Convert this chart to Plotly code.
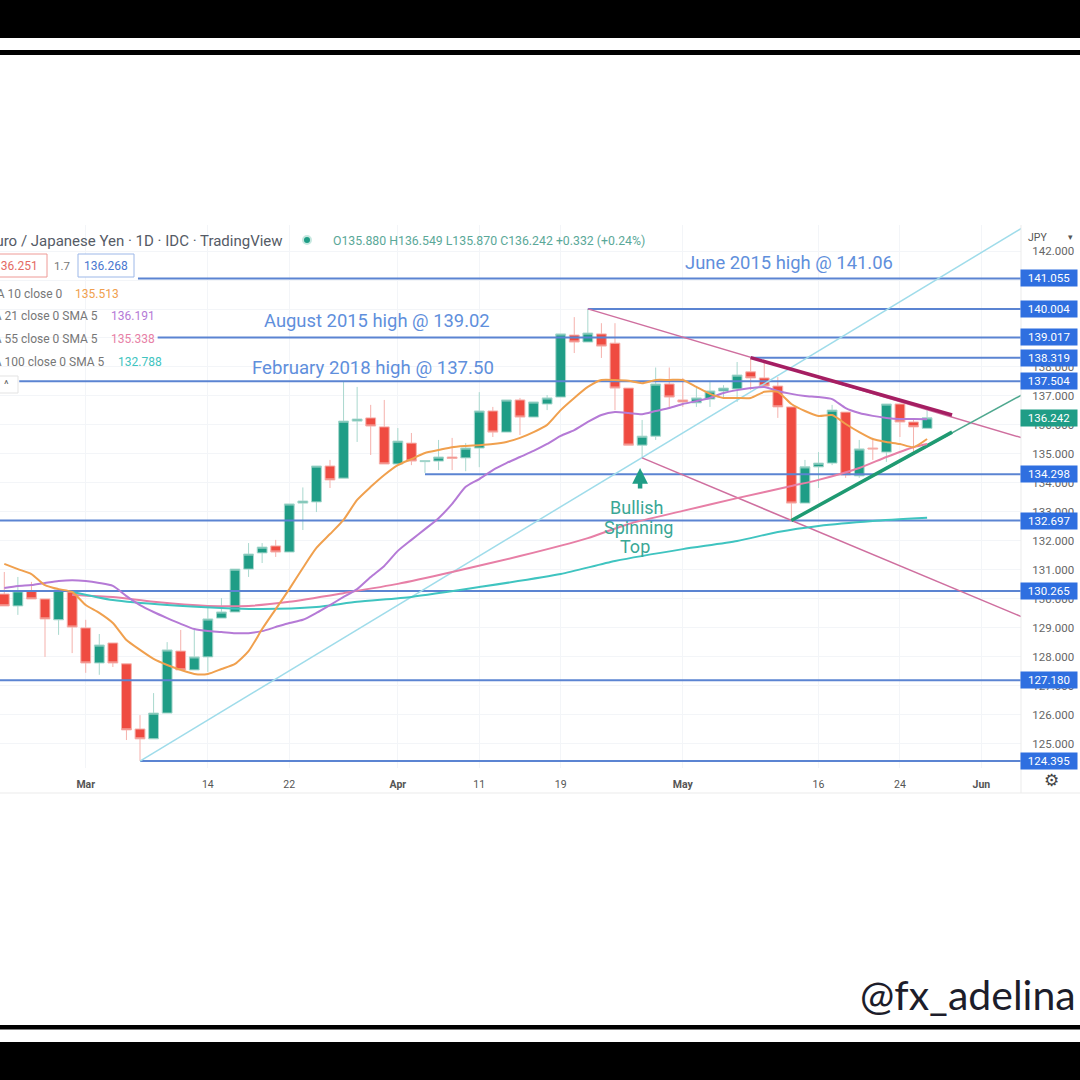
import plotly.graph_objects as go

# Daily candles, EUR/JPY, 2022 (x is the trading day number)
opens = [130.16, 129.75, 130.27, 129.99, 129.27, 130.23, 128.99, 127.78, 128.47, 127.75,
         125.50, 125.16, 126.05, 128.19, 127.54, 127.99, 129.33, 129.54, 131.02, 131.58,
         131.82, 131.61, 133.30, 133.34, 134.58, 134.16, 136.13, 136.24, 135.93, 134.65,
         135.37, 134.73, 134.75, 134.89, 134.86, 135.20, 136.48, 135.75, 136.86, 136.27,
         136.72, 136.96, 139.10, 138.86, 139.14, 138.82, 137.27, 135.30, 135.61, 137.41,
         136.86, 136.76, 136.89, 137.17, 137.24, 137.83, 137.62, 137.34, 136.62, 133.30,
         134.55, 134.68, 136.44, 134.24, 135.20, 135.06, 136.72, 136.10, 135.88]
highs = [130.92, 130.75, 130.58, 129.99, 130.30, 130.30, 129.27, 128.78, 128.47, 127.75,
         125.98, 126.74, 128.50, 128.92, 128.92, 129.68, 130.02, 131.02, 131.92, 131.92,
         132.03, 133.27, 133.84, 134.58, 134.79, 137.48, 137.31, 136.69, 136.86, 135.89,
         135.72, 134.77, 135.48, 135.55, 135.37, 137.13, 136.62, 136.86, 136.93, 136.79,
         137.03, 139.14, 139.72, 140.00, 139.51, 139.51, 137.27, 136.17, 137.98, 137.98,
         137.62, 137.27, 137.48, 137.37, 138.17, 138.32, 138.13, 137.65, 136.62, 134.79,
         135.06, 136.69, 136.44, 135.48, 135.55, 136.72, 136.72, 136.20, 136.55]
lows = [129.75, 129.44, 129.99, 127.99, 128.75, 128.12, 127.44, 127.37, 127.64, 125.12,
        124.40, 125.16, 126.05, 127.54, 127.54, 127.47, 129.33, 129.54, 130.75, 131.23,
        131.44, 131.61, 132.37, 132.99, 133.82, 134.16, 135.41, 134.96, 134.65, 134.65,
        134.61, 134.34, 134.44, 134.44, 134.40, 134.54, 135.58, 135.75, 135.65, 136.27,
        136.51, 136.96, 138.48, 138.86, 138.31, 136.51, 135.30, 134.86, 135.48, 136.58,
        136.62, 136.62, 136.62, 136.96, 136.79, 137.20, 137.34, 136.24, 132.71, 133.30,
        133.82, 134.61, 134.17, 134.17, 134.79, 134.72, 135.58, 135.06, 135.87]
closes = [129.75, 130.27, 129.99, 129.30, 130.30, 129.02, 127.78, 128.40, 127.78, 125.47,
          125.16, 126.05, 128.23, 127.54, 127.99, 129.30, 129.54, 131.02, 131.54, 131.78,
          131.61, 133.27, 133.37, 134.58, 134.10, 136.13, 136.20, 135.96, 134.65, 135.44,
          134.75, 134.77, 134.89, 134.84, 135.20, 136.48, 135.75, 136.86, 136.27, 136.79,
          136.93, 139.14, 138.86, 139.17, 138.72, 137.27, 135.30, 135.61, 137.41, 136.96,
          136.79, 136.93, 137.17, 137.27, 137.72, 137.62, 137.34, 136.62, 133.30, 134.55,
          134.68, 136.51, 134.27, 135.17, 135.17, 136.72, 136.10, 135.93, 136.242]
days = list(range(len(opens)))

sma10 = [131.20, 131.02, 130.85, 130.47, 130.33, 130.23, 129.78, 129.51, 129.16, 128.57,
         128.23, 127.92, 127.71, 127.54, 127.40, 127.40, 127.57, 127.75, 128.19, 128.95,
         129.64, 130.33, 131.06, 131.75, 132.23, 132.72, 133.41, 133.86, 134.27, 134.61,
         134.82, 135.03, 135.13, 135.23, 135.27, 135.30, 135.34, 135.41, 135.55, 135.75,
         136.00, 136.51, 136.93, 137.31, 137.55, 137.55, 137.52, 137.44, 137.55, 137.55,
         137.55, 137.31, 137.07, 136.93, 136.93, 136.93, 137.14, 137.14, 136.72, 136.48,
         136.31, 136.34, 136.03, 135.75, 135.51, 135.41, 135.34, 135.23, 135.51]
sma21 = [130.37, 130.44, 130.47, 130.54, 130.61, 130.64, 130.61, 130.54, 130.44, 130.09,
         129.78, 129.54, 129.33, 129.13, 128.95, 128.88, 128.85, 128.81, 128.81, 128.88,
         129.02, 129.16, 129.27, 129.51, 129.78, 130.06, 130.33, 130.75, 131.13, 131.65,
         132.03, 132.40, 132.78, 133.27, 133.86, 134.13, 134.44, 134.68, 134.89, 135.10,
         135.34, 135.62, 135.82, 136.10, 136.34, 136.44, 136.41, 136.37, 136.48, 136.58,
         136.72, 136.82, 136.93, 137.10, 137.20, 137.27, 137.31, 137.17, 137.07, 137.00,
         136.96, 136.89, 136.58, 136.41, 136.31, 136.24, 136.20, 136.20, 136.19]
sma55_days = [5, 8, 11, 15, 18, 21, 25, 29, 33, 38, 43, 46, 50, 54, 58, 60, 63, 65, 67, 68]
sma55 = [130.13, 130.06, 129.89, 129.75, 129.75, 129.89, 130.19, 130.51, 130.92, 131.47,
         132.09, 132.58, 133.03, 133.47, 133.89, 134.10, 134.51, 134.89, 135.23, 135.34]
sma100_days = [5, 8, 12, 16, 19, 23, 26, 30, 35, 41, 45, 50, 54, 57, 60, 64, 68]
sma100 = [130.23, 129.95, 129.78, 129.68, 129.64, 129.71, 129.89, 130.06, 130.40, 130.85,
          131.30, 131.71, 131.99, 132.30, 132.51, 132.68, 132.79]

# Horizontal levels: price and the day each one starts
levels = [141.055, 140.004, 139.017, 138.319, 137.504, 134.298, 132.697, 130.265, 127.18, 124.395]
level_starts = [9.85, 43, 11.3, 55, 1.1, 31, -1, -1, -1, 10]
level_end = 75

# Drawn trend lines: (day, price) at each end
fan_days = [10, 75]
fan_prices = [124.395, 142.8]
upper_days = [43, 75]
upper_prices = [140.004, 135.55]
lower_days = [47, 75]
lower_prices = [134.86, 129.37]
res_days = [55, 69.84]
res_prices = [138.32, 136.34]
sup_days = [58, 75]
sup_prices = [132.70, 137.04]
sup_thick_days = [58, 69.84]
sup_thick_prices = [132.70, 135.75]

tick_days = [6, 15, 21, 29, 35, 41, 50, 60, 66, 72]
tick_text = ['<b>Mar</b>', '14', '22', '<b>Apr</b>', '11', '19', '<b>May</b>', '16', '24', '<b>Jun</b>']
price_ticks = list(range(125, 143))

BLUE = '#5b84d2'
GREEN = '#1f9d86'
RED = '#ef4b41'
FONT = 'Roboto'


def px(x):
    return x / 1080


def py(y):
    return 1 - y / 1080


fig = go.Figure()

fig.add_trace(go.Candlestick(
    x=days, open=opens, high=highs, low=lows, close=closes,
    increasing=dict(line=dict(color='#a9d8ce', width=1), fillcolor=GREEN),
    decreasing=dict(line=dict(color='#f5b1ac', width=1), fillcolor=RED),
    whiskerwidth=0, showlegend=False,
))

for price, start in zip(levels, level_starts):
    fig.add_trace(go.Scatter(x=[start, level_end], y=[price, price], mode='lines',
                             line=dict(color=BLUE, width=2), hoverinfo='skip'))

lines = [
    (fan_days, fan_prices, '#9fdcea', 1.5),
    (upper_days, upper_prices, '#cf6f9f', 1.5),
    (lower_days, lower_prices, '#cf6f9f', 1.5),
    (sup_days, sup_prices, '#4fa88f', 1.5),
    (sup_thick_days, sup_thick_prices, '#1f9a72', 3.5),
    (res_days, res_prices, '#a51e62', 3.5),
]
for xs, ys, color, width in lines:
    fig.add_trace(go.Scatter(x=xs, y=ys, mode='lines', line=dict(color=color, width=width),
                             hoverinfo='skip'))

fig.add_trace(go.Scatter(x=sma55_days, y=sma55, mode='lines',
                         line=dict(color='#e77fa6', width=2, shape='spline', smoothing=0.6)))
fig.add_trace(go.Scatter(x=sma100_days, y=sma100, mode='lines',
                         line=dict(color='#3fc4c0', width=2, shape='spline', smoothing=0.6)))
fig.add_trace(go.Scatter(x=days, y=sma21, mode='lines',
                         line=dict(color='#b57ad6', width=2, shape='spline', smoothing=0.6)))
fig.add_trace(go.Scatter(x=days, y=sma10, mode='lines',
                         line=dict(color='#f0a04e', width=2, shape='spline', smoothing=0.6)))

annotations = []


def note(x, y, text, color, size, anchor='left', family=FONT):
    annotations.append(dict(xref='paper', yref='paper', x=px(x), y=py(y), text=text, showarrow=False,
                            xanchor=anchor, yanchor='middle',
                            font=dict(family=family, color=color, size=size)))


# header rows, cut by the left edge as in the source
note(285, 241, 'Euro / Japanese Yen · 1D · IDC · TradingView', '#555b66', 15, 'right')
note(331, 241, 'O135.880 H136.549 L135.870 C136.242 +0.332 (+0.24%)', '#5aa898', 12.3)
note(62, 266, '1.7', '#777777', 11.5, 'center')
note(65, 294, 'SMA 10 close 0', '#777777', 12, 'right')
note(73, 294, '135.513', '#f0a04e', 12)
note(100, 316, 'SMA 21 close 0 SMA 5', '#777777', 12, 'right')
note(109, 316, '136.191', '#b57ad6', 12)
note(100, 339, 'SMA 55 close 0 SMA 5', '#777777', 12, 'right')
note(109, 339, '135.338', '#e77fa6', 12)
note(107, 362, 'SMA 100 close 0 SMA 5', '#777777', 12, 'right')
note(116, 362, '132.788', '#3fc4c0', 12)
note(40, 266, '136.251', '#e46a64', 12, 'right')
note(106, 266, '136.268', '#4a77d0', 12, 'center')
note(6, 385, '^', '#666666', 11, 'center')

note(789, 262, 'June 2015 high @ 141.06', '#5f8fdc', 18.4, 'center')
note(377, 320, 'August 2015 high @ 139.02', '#5f8fdc', 18.4, 'center')
note(373, 368, 'February 2018 high @ 137.50', '#5f8fdc', 18.6, 'center')
note(636, 508, 'Bullish', '#3aa795', 18, 'center')
note(638, 527, 'Spinning', '#3aa795', 18, 'center')
note(635, 546, 'Top', '#3aa795', 18, 'center')
note(1037, 237, 'JPY', '#555555', 10.5, 'center')
note(1070, 237, '▾', '#555555', 9, 'center')
note(1051, 780, '⚙', '#444444', 17, 'center')
note(1078, 994, '@fx_adelina', '#1d1d2a', 41, 'right', 'Lato')

# arrow under the spinning top
annotations.append(dict(xref='x', yref='y', x=46.85, y=134.51, ax=0, ay=22, text='', showarrow=True,
                        arrowhead=2, arrowsize=0.7, arrowwidth=4.5, arrowcolor='#1f9d86', standoff=0))

# price tags on the axis
for price in levels:
    annotations.append(dict(xref='paper', yref='y', x=px(1049), y=price, text=f'{price:.3f}', showarrow=False,
                            xanchor='center', yanchor='middle', bgcolor='#2f6fe0', borderpad=1, width=54, height=14,
                            font=dict(family=FONT, color='white', size=11.5)))
annotations.append(dict(xref='paper', yref='y', x=px(1049), y=closes[-1], text='136.242', showarrow=False,
                        xanchor='center', yanchor='middle', bgcolor='#1f9d86', borderpad=1, width=54, height=14,
                        font=dict(family=FONT, color='white', size=11.5)))

shapes = [
    dict(type='rect', xref='paper', yref='paper', x0=0, x1=1, y0=py(38), y1=py(0),
         fillcolor='black', line_width=0),
    dict(type='rect', xref='paper', yref='paper', x0=0, x1=1, y0=py(55), y1=py(50),
         fillcolor='black', line_width=0),
    dict(type='rect', xref='paper', yref='paper', x0=0, x1=1, y0=py(1029.5), y1=py(1025),
         fillcolor='black', line_width=0),
    dict(type='rect', xref='paper', yref='paper', x0=0, x1=1, y0=py(1080), y1=py(1042),
         fillcolor='black', line_width=0),
    dict(type='rect', xref='paper', yref='paper', x0=px(-3), x1=px(47), y0=py(277), y1=py(254),
         line=dict(color='#ee9a96', width=1), fillcolor='white'),
    dict(type='rect', xref='paper', yref='paper', x0=px(78), x1=px(134), y0=py(277), y1=py(254),
         line=dict(color='#9db8e8', width=1), fillcolor='white'),
    dict(type='rect', xref='paper', yref='paper', x0=px(-3), x1=px(18), y0=py(393), y1=py(376),
         line=dict(color='#e3e3e3', width=1), fillcolor='white'),
    dict(type='circle', xref='paper', yref='paper', x0=px(303), x1=px(311), y0=py(244), y1=py(236),
         line=dict(color='#c7e8e0', width=2), fillcolor='#1f9d86'),
    dict(type='line', xref='paper', yref='paper', x0=px(0), x1=px(1080), y0=py(793), y1=py(793),
         line=dict(color='#ebebeb', width=1)),
    dict(type='line', xref='paper', yref='paper', x0=px(1021), x1=px(1021), y0=py(793), y1=py(225),
         line=dict(color='#ebebeb', width=1)),
]

fig.update_layout(
    width=1080, height=1080, margin=dict(l=0, r=0, t=0, b=0), showlegend=False,
    paper_bgcolor='white', plot_bgcolor='white', boxgap=0.15, boxgroupgap=0.15,
    xaxis=dict(domain=[0, px(1021)], range=[-0.317, 74.92], rangeslider=dict(visible=False),
               tickmode='array', tickvals=tick_days, ticktext=tick_text, showgrid=True, gridcolor='#f3f5f8',
               ticks='outside', ticklen=6, tickcolor='rgba(0,0,0,0)', zeroline=False,
               tickfont=dict(family=FONT, size=10.5, color='#555555')),
    yaxis=dict(domain=[py(768), py(225)], range=[124.154, 142.9], side='right', tickmode='array',
               tickvals=price_ticks, tickformat='.3f', showgrid=True, gridcolor='#f3f5f8', zeroline=False,
               ticks='outside', ticklen=8, tickcolor='rgba(0,0,0,0)',
               tickfont=dict(family=FONT, size=11.5, color='#666666')),
    shapes=shapes, annotations=annotations,
)

fig.write_html("out.html", config={'displayModeBar': False},
               post_script="document.body.style.margin='0';document.documentElement.style.overflow='hidden';")
